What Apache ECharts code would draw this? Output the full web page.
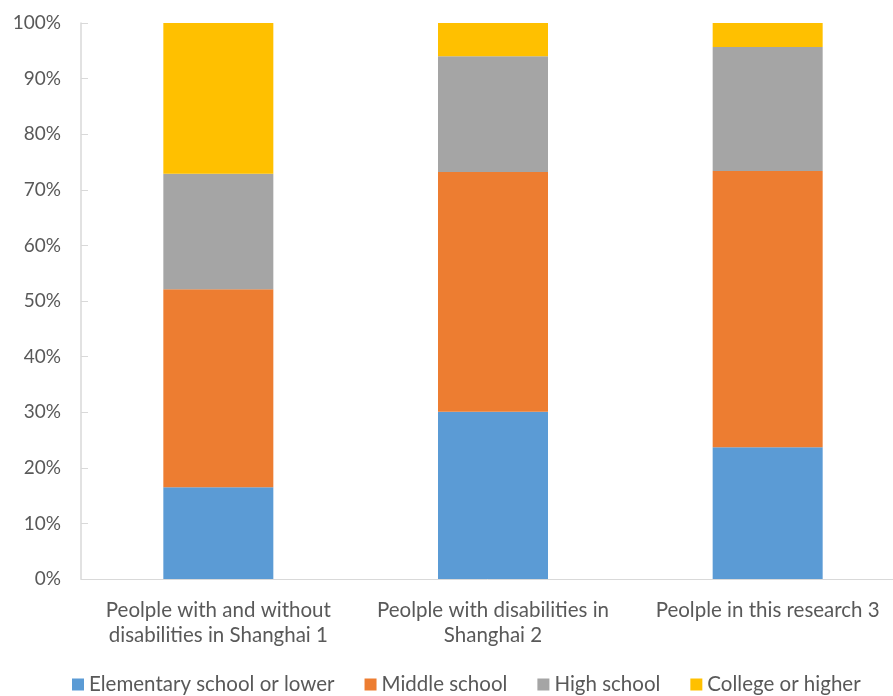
<!DOCTYPE html>
<html>
<head>
<meta charset="utf-8">
<script src="https://cdn.jsdelivr.net/npm/echarts@6/dist/echarts.min.js"></script>
<style>
  html, body { margin: 0; padding: 0; background: #fff; }
  #chart { width: 893px; height: 696px; }
</style>
</head>
<body>
<div id="chart"></div>
<script>
// 类别与数据
var categories = ['Peolple with and without\ndisabilities in Shanghai 1', 'Peolple with disabilities in\nShanghai 2', 'Peolple in this research 3'];
var seriesNames = ['Elementary school or lower', 'Middle school', 'High school', 'College or higher'];
var elementary = [16.5, 30.1, 23.7];
var middle = [35.6, 43.1, 49.7];
var high = [20.8, 20.8, 22.3];
var college = [27.1, 6.0, 4.3];
var colors = ['#5b9bd5', '#ed7d31', '#a5a5a5', '#ffc000'];

var font = 'Lato';
var textColor = '#595959';

var values = [elementary, middle, high, college];
var series = [];
for (var i = 0; i < 4; i++) {
    series.push({
        name: seriesNames[i],
        type: 'bar',
        stack: 'total',
        barWidth: 110,
        itemStyle: { color: colors[i] },
        data: values[i]
    });
}

var option = {
    animation: false,
    backgroundColor: '#fff',
    color: colors,
    grid: {
        left: 81,
        width: 824,
        top: 23,
        bottom: 117,
        containLabel: false,
        outerBoundsMode: 'none'
    },
    legend: {
        bottom: -4,
        left: 67,
        icon: 'rect',
        itemWidth: 12,
        itemHeight: 12,
        itemGap: 30,
        textStyle: { fontFamily: font, fontSize: 20.5, color: textColor },
        data: seriesNames
    },
    xAxis: {
        type: 'category',
        data: categories,
        axisLine: { lineStyle: { color: '#d9d9d9', width: 1 } },
        axisTick: { show: false },
        axisLabel: {
            interval: 0,
            margin: 19,
            lineHeight: 25,
            fontFamily: font,
            fontSize: 20.5,
            color: textColor
        }
    },
    yAxis: {
        type: 'value',
        min: 0,
        max: 100,
        interval: 10,
        splitLine: { show: false },
        axisLine: { show: true, lineStyle: { color: '#d9d9d9', width: 1.5 } },
        axisTick: { show: true, inside: true, length: 7, lineStyle: { color: '#d9d9d9' } },
        axisLabel: {
            margin: 20,
            fontFamily: font,
            fontSize: 19,
            color: textColor,
            formatter: '{value}%'
        }
    },
    series: series
};

var myChart = echarts.init(document.getElementById('chart'));
myChart.setOption(option);
</script>
</body>
</html>
